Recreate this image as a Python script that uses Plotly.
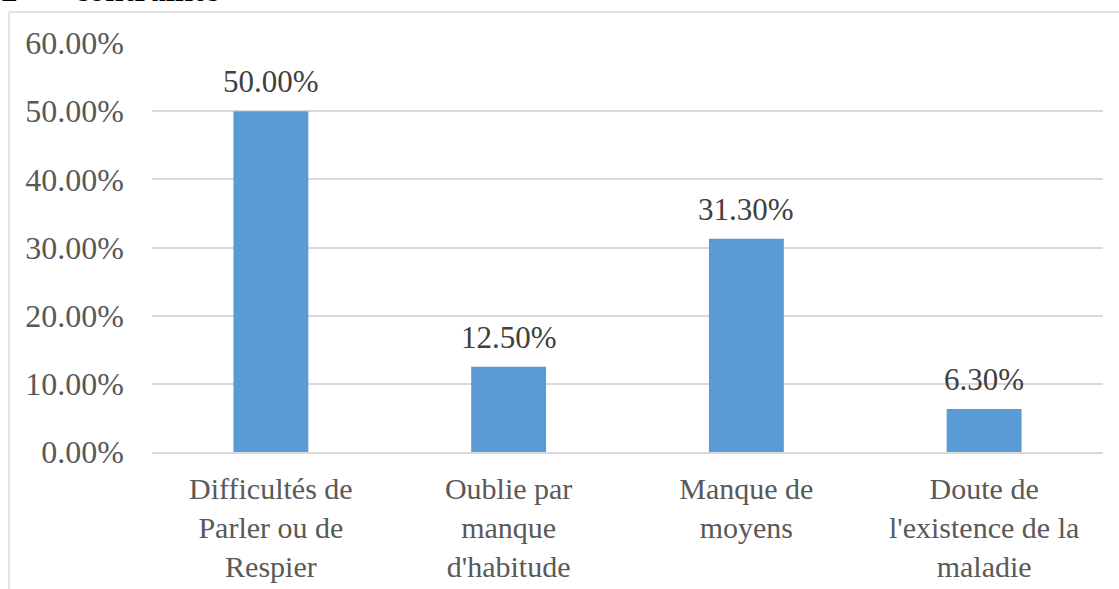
import plotly.graph_objects as go

categories = [
    "Difficultés de<br>Parler ou de<br>Respier",
    "Oublie par<br>manque<br>d'habitude",
    "Manque de<br>moyens",
    "Doute de<br>l'existence de la<br>maladie",
]
values = [0.50, 0.125, 0.313, 0.063]
labels = ["50.00%", "12.50%", "31.30%", "6.30%"]

W, H = 1119, 589
L, R, T, B = 152, 16, 43, 137
pw, ph = W - L - R, H - T - B

def px_x(x):
    return (x - L) / pw

def px_y(y):
    return (H - B - y) / ph

font = "Liberation Serif"
grey = "#595959"
line = "#d9d9d9"

fig = go.Figure(go.Bar(
    x=categories, y=values,
    marker=dict(color="#5b9bd5", line=dict(width=0)),
))

# valeurs au-dessus des barres
for c, v, t in zip(categories, values, labels):
    fig.add_annotation(x=c, y=v, text=t, showarrow=False,
                       yanchor="bottom", yshift=10,
                       font=dict(family=font, size=31, color="#404040"))

fig.update_layout(
    width=W, height=H,
    margin=dict(l=L, r=R, t=T, b=B),
    paper_bgcolor="white", plot_bgcolor="white",
    bargap=0.685,
    showlegend=False,
    font=dict(family=font, size=31, color=grey),
    shapes=[
        dict(type="line", xref="paper", yref="paper",
             x0=px_x(9), x1=px_x(W + 5), y0=px_y(12), y1=px_y(12),
             line=dict(color=line, width=1.5)),
        dict(type="line", xref="paper", yref="paper",
             x0=px_x(9), x1=px_x(9), y0=px_y(12), y1=px_y(H + 5),
             line=dict(color=line, width=1.5)),
    ],
)

# titre coupé en haut
fig.add_annotation(text="<b>2</b>", xref="paper", yref="paper", x=px_x(-1), y=px_y(10),
                   xanchor="left", yanchor="bottom", showarrow=False,
                   font=dict(family=font, size=33, color="black"))
fig.add_annotation(text="<b>contrainte</b>", xref="paper", yref="paper", x=px_x(72), y=px_y(10),
                   xanchor="left", yanchor="bottom", showarrow=False,
                   font=dict(family=font, size=33, color="black"))

fig.update_yaxes(
    range=[0, 0.6], dtick=0.1, tickformat=".2%",
    showgrid=True, gridcolor=line, gridwidth=1.5,
    zeroline=False, showline=False, ticks="",
    ticklabelstandoff=27, automargin=False,
    tickfont=dict(family=font, size=32, color=grey),
)
fig.update_xaxes(
    showline=True, linecolor=line, linewidth=1.5, ticks="",
    ticklabelstandoff=9, automargin=False,
    tickfont=dict(family=font, size=30, color=grey),
)

fig.write_html("out.html", config={"displayModeBar": False},
               post_script="document.body.style.margin='0';")
